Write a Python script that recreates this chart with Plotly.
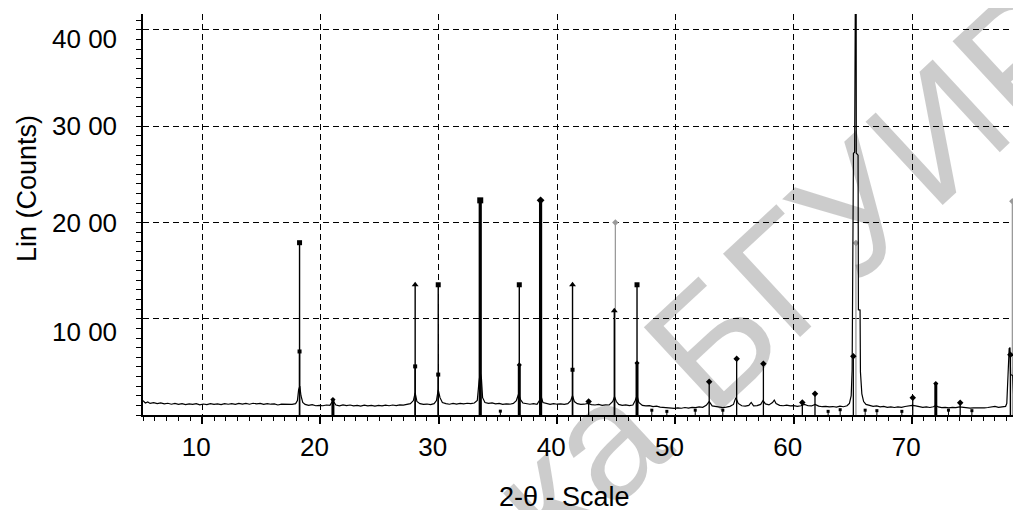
import plotly.graph_objects as go

# ---------------- data ----------------
two_theta = [
    5.0, 5.2, 5.4, 5.6, 5.9, 6.2, 6.5, 6.8, 7.1, 7.4, 7.7, 8.0, 8.3, 8.6, 8.9, 9.2, 9.5, 9.8,
    10.1, 10.4, 10.7, 11.0, 11.3, 11.6, 11.9, 12.2, 12.5, 12.8, 13.1, 13.4, 13.7, 14.0, 14.3,
    14.6, 14.9, 15.2, 15.5, 15.8, 16.1, 16.4, 16.7, 17.0, 17.3, 17.6, 17.9, 18.05, 18.15, 18.25,
    18.35, 18.5, 18.7, 19.0, 19.3, 19.6, 19.9, 20.2, 20.5, 20.8, 21.05, 21.3, 21.6, 21.9, 22.2,
    22.5, 22.8, 23.1, 23.4, 23.7, 24.0, 24.3, 24.6, 24.9, 25.2, 25.5, 25.8, 26.1, 26.4, 26.7,
    27.0, 27.3, 27.6, 27.85, 28.0, 28.15, 28.4, 28.7, 29.0, 29.3, 29.6, 29.8, 29.95, 30.1, 30.3,
    30.6, 30.9, 31.2, 31.5, 31.8, 32.1, 32.4, 32.7, 33.0, 33.25, 33.4, 33.5, 33.6, 33.7, 33.9,
    34.2, 34.5, 34.8, 35.1, 35.4, 35.7, 36.0, 36.3, 36.55, 36.75, 36.9, 37.1, 37.4, 37.7, 38.0,
    38.3, 38.5, 38.65, 38.8, 39.1, 39.4, 39.7, 40.0, 40.3, 40.6, 40.9, 41.15, 41.3, 41.45, 41.7,
    42.0, 42.3, 42.6, 42.9, 43.2, 43.5, 43.8, 44.1, 44.4, 44.7, 44.85, 45.0, 45.2, 45.5, 45.8,
    46.1, 46.4, 46.6, 46.75, 46.9, 47.2, 47.5, 47.8, 48.1, 48.4, 48.7, 49.0, 49.3, 49.6, 49.9,
    50.2, 50.5, 50.8, 51.1, 51.4, 51.7, 52.0, 52.3, 52.6, 52.85, 53.1, 53.4, 53.7, 54.0, 54.3,
    54.6, 54.9, 55.1, 55.3, 55.6, 55.9, 56.2, 56.4, 56.6, 56.9, 57.2, 57.4, 57.6, 57.9, 58.2,
    58.35, 58.5, 58.8, 59.1, 59.4, 59.7, 60.0, 60.3, 60.6, 60.9, 61.2, 61.5, 61.8, 62.1, 62.4,
    62.7, 63.0, 63.3, 63.6, 63.9, 64.2, 64.5, 64.7, 64.85, 64.93, 65.0, 65.04, 65.14, 65.16,
    65.26, 65.28, 65.43, 65.46, 65.6, 65.63, 65.75, 65.9, 66.1, 66.4, 66.7, 67.0, 67.3, 67.6,
    67.9, 68.2, 68.5, 68.8, 69.1, 69.4, 69.7, 70.0, 70.3, 70.6, 70.9, 71.2, 71.5, 71.8, 72.0,
    72.2, 72.5, 72.8, 73.1, 73.4, 73.7, 74.0, 74.3, 74.6, 74.9, 75.2, 75.5, 75.8, 76.1, 76.4,
    76.7, 77.0, 77.3, 77.6, 77.9, 78.0, 78.1, 78.2, 78.27, 78.32, 78.5, 78.6, 78.75, 79.0, 79.2,
]
counts = [
    150, 125, 135, 120, 128, 118, 125, 115, 122, 112, 120, 110, 118, 108, 116, 110, 118, 106,
    114, 108, 118, 110, 116, 108, 118, 112, 118, 110, 120, 114, 120, 112, 122,
    116, 120, 110, 118, 112, 116, 104, 112, 110, 112, 110, 118, 150, 260, 300,
    200, 130, 110, 100, 108, 96, 100, 96, 104, 100, 150, 104, 96, 106, 98,
    104, 94, 100, 92, 102, 94, 100, 92, 100, 94, 102, 96, 104, 98, 106,
    102, 110, 118, 150, 230, 140, 118, 110, 114, 108, 118, 150, 260, 180, 130,
    118, 112, 120, 114, 120, 116, 122, 118, 125, 150, 350, 440, 380, 180, 130,
    120, 125, 116, 120, 110, 116, 112, 120, 150, 220, 160, 125, 118, 112, 118,
    110, 150, 190, 130, 116, 110, 118, 112, 116, 110, 118, 150, 200, 140, 118,
    110, 112, 120, 108, 104, 110, 100, 106, 104, 140, 190, 140, 110, 100, 106,
    98, 104, 150, 200, 130, 100, 94, 98, 88, 92, 82, 80, 72, 70, 68,
    74, 70, 78, 72, 80, 76, 84, 80, 100, 140, 95, 86, 80, 76, 82,
    90, 110, 180, 120, 96, 92, 100, 130, 95, 98, 110, 150, 115, 105, 130,
    155, 120, 100, 96, 102, 94, 98, 90, 96, 110, 96, 94, 110, 92, 86,
    90, 84, 88, 82, 92, 86, 96, 120, 200, 470, 1500, 2720, 2730, 6000,
    6000, 2720, 2700, 1094, 1090, 450, 220, 140, 110, 100, 90, 94, 84, 90,
    80, 84, 78, 84, 80, 88, 92, 100, 94, 84, 80, 84, 78, 86, 100,
    84, 76, 80, 74, 80, 76, 84, 78, 76, 72, 74, 72, 76, 74, 78,
    82, 90, 80, 88, 90, 120, 400, 690, 700, 420, 410, 150, 100, 90, 88,
]

# reference stick patterns (position 2-theta, intensity)
sq_pos = [18.23, 29.95, 36.8, 46.75]
sq_int = [1790, 1353, 1353, 1353]
tri_pos = [28.0, 41.3, 44.83]
tri_int = [1353, 1353, 1083]
strong_pos = [33.5, 38.6]
strong_int = [2230, 2230]
dia_pos = [42.66, 52.85, 55.17, 57.43, 60.72, 61.79, 65.03, 70.05, 74.06, 78.3]
dia_int = [140, 346, 585, 533, 130, 221, 610, 180, 128, 627]
sec_pos = [21.05, 36.8, 46.75, 72.0]
sec_int = [160, 520, 540, 326]
mid_pos = [18.23, 28.0, 29.95, 41.3]
mid_int = [660, 505, 420, 470]
low_pos = [35.2, 48.0, 49.27, 51.67, 54.0, 62.9, 63.92, 66.03, 67.02, 69.13, 73.07, 75.05]
low_int = [40, 50, 38, 50, 50, 38, 55, 50, 45, 38, 50, 45]
gray_pos = [44.92, 65.25, 78.47]
gray_int = [2000, 1786, 2220]

x_tick_vals = [10, 20, 30, 40, 50, 60, 70]
x_tick_text = ["10", "20", "30", "40", "50", "60", "70"]
y_tick_vals = [1000, 2000, 3000, 4000]
y_tick_text = ["10 00", "20 00", "30 00", "40 00"]
y_label_shift = [-13, -1, 0, -9]   # pixel offsets of the labels as drawn

x_title = "2-θ - Scale"
y_title = "Lin (Counts)"
watermark = "Библиотека БГУИР"

FONT = "Liberation Sans, Arial, sans-serif"


def stick_xy(pos, ints):
    xs, ys = [], []
    for p, v in zip(pos, ints):
        xs += [p, p, None]
        ys += [0, v, None]
    return xs, ys


fig = go.Figure()


def add_sticks(pos, ints, color, width, symbol, msize):
    xs, ys = stick_xy(pos, ints)
    fig.add_trace(go.Scatter(x=xs, y=ys, mode="lines",
                             line=dict(color=color, width=width),
                             hoverinfo="skip", showlegend=False))
    fig.add_trace(go.Scatter(x=pos, y=ints, mode="markers",
                             marker=dict(symbol=symbol, size=msize, color=color,
                                         line=dict(width=0)),
                             hoverinfo="skip", showlegend=False))


# gray reference lines (behind)
add_sticks(gray_pos, gray_int, "#9a9a9a", 1.3, "diamond", 5)

# measured pattern
fig.add_trace(go.Scatter(x=two_theta, y=counts, mode="lines",
                         line=dict(color="black", width=1.2),
                         hoverinfo="skip", showlegend=False))

add_sticks(sq_pos, sq_int, "black", 1.4, "square", 5)
add_sticks(tri_pos, tri_int, "black", 1.4, "triangle-up", 6)
add_sticks(strong_pos, strong_int, "black", 3.2, ["square", "diamond"], 6)
add_sticks(dia_pos, dia_int, "black", 1.3, "diamond", 5)
add_sticks(sec_pos, sec_int, "black", 3.0, "diamond", 4)
add_sticks(mid_pos, mid_int, "black", 1.4, "square", 4)
add_sticks(low_pos, low_int, "black", 1.0, "square", 3)

grid = dict(showgrid=True, gridcolor="black", gridwidth=1, griddash="6px,4px")

fig.update_xaxes(range=[5, 79.2], tickmode="array", tickvals=x_tick_vals,
                 ticktext=x_tick_text, ticks="outside", ticklen=7, tickwidth=1.5,
                 tickcolor="black", showline=True, linecolor="black", linewidth=2,
                 zeroline=False, ticklabelshift=-6, ticklabelstandoff=1,
                 tickfont=dict(family=FONT, size=26, color="black"),
                 minor=dict(dtick=1, tick0=0, ticks="outside", ticklen=4,
                            tickcolor="black", tickwidth=1, showgrid=False),
                 **grid)
fig.update_yaxes(range=[0, 4166], tickmode="array", tickvals=y_tick_vals,
                 showticklabels=False, ticks="outside", ticklen=5, tickwidth=1,
                 tickcolor="black", showline=True, linecolor="black", linewidth=2,
                 zeroline=False,
                 minor=dict(dtick=100, tick0=0, ticks="outside", ticklen=5,
                            tickcolor="black", tickwidth=1, showgrid=False),
                 **grid)

annotations = []
for v, t, s in zip(y_tick_vals, y_tick_text, y_label_shift):
    annotations.append(dict(x=0, xref="paper", y=v, yref="y", text=t, showarrow=False,
                            xanchor="right", yanchor="middle", xshift=-24, yshift=s,
                            font=dict(family=FONT, size=26, color="black")))
annotations.append(dict(x=0.4806, xref="paper", y=-0.2045, yref="paper", text=x_title,
                        showarrow=False, xanchor="center", yanchor="middle",
                        font=dict(family=FONT, size=27, color="black")))
annotations.append(dict(x=-0.132, xref="paper", y=0.5636, yref="paper", text=y_title,
                        showarrow=False, textangle=-90, xanchor="center", yanchor="middle",
                        font=dict(family=FONT, size=27, color="black")))
annotations.append(dict(x=0.4305, xref="paper", y=-0.2569, yref="paper", text=watermark,
                        showarrow=False, textangle=-42.8, xanchor="center", yanchor="middle",
                        font=dict(family=FONT, size=165, color="rgba(0,0,0,0.2)")))

# the page adds an 8px body margin, so the figure is sized/offset to compensate
fig.update_layout(width=1013, height=502, margin=dict(l=135, r=0, t=6, b=95),
                  paper_bgcolor="white", plot_bgcolor="white",
                  annotations=annotations, showlegend=False)

fig.write_html("out.html")
